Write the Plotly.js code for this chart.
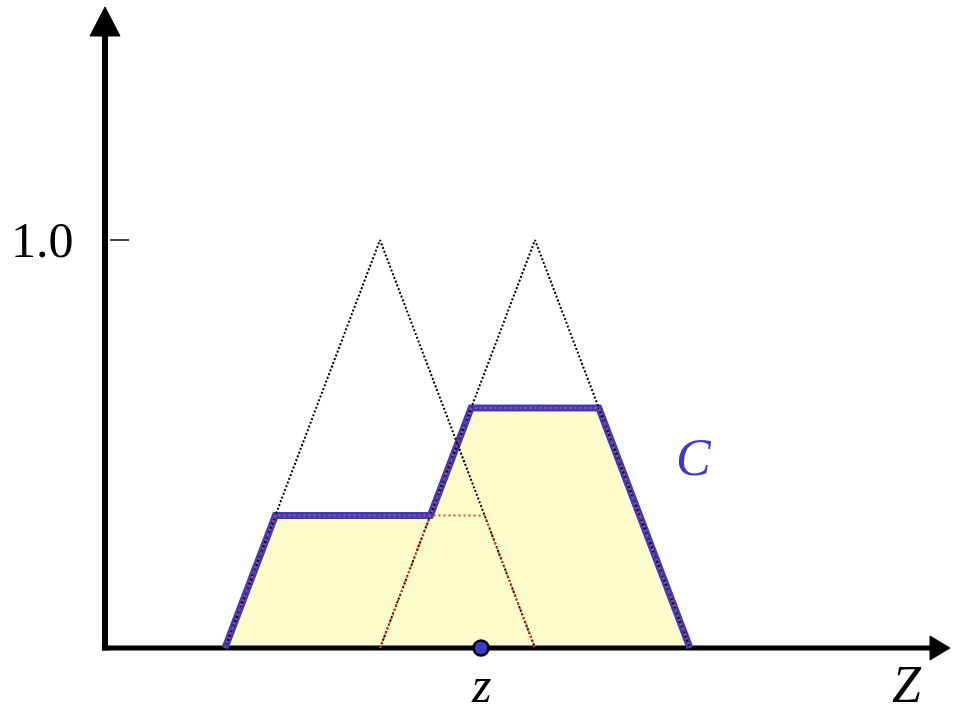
<!DOCTYPE html>
<html>
<head>
<meta charset="utf-8">
<script src="https://cdn.plot.ly/plotly-3.0.1.min.js"></script>
<style>
  html, body { margin: 0; padding: 0; background: #ffffff; }
  #chart { width: 953px; height: 715px; }
</style>
</head>
<body>
<div id="chart"></div>
<script>
// Two triangular fuzzy sets on the Z axis
const set1X = [1, 2, 3];
const set1Y = [0, 1, 0];
const set2X = [2, 3, 4];
const set2Y = [0, 1, 0];

// Each set clipped at its firing level
const clip1X = [1, 1.325, 2.675, 3];
const clip1Y = [0, 0.325, 0.325, 0];
const clip2X = [2, 2.588, 3.412, 4];
const clip2Y = [0, 0.588, 0.588, 0];

// Aggregated output set C (upper envelope of the clipped sets)
const outX = [1, 1.325, 2.325, 2.588, 3.412, 4];
const outY = [0, 0.325, 0.325, 0.588, 0.588, 0];

// Crisp output value z
const crispZ = [2.652];
const crispLevel = [0];

// Vertical axis tick
const yTickVals = [1];
const yTickText = ['1.0'];

// Axis geometry (data units)
const axisX0 = 0.2258, axisXEnd = 5.6774, axisXHead = 5.5484, headHalfY = 0.0294;
const axisYTop = 1.5711, axisYHead = 1.5, headHalfX = 0.0968;
const yBottom = -0.16422;

const SERIF = '"Liberation Serif", "Times New Roman", serif';
const BLUE = 'rgb(58,58,200)';
const RED = 'rgb(230,75,25)';

const traces = [
  // yellow area of C
  { x: outX, y: outY, mode: 'lines', fill: 'toself', fillcolor: 'rgb(253,252,202)',
    line: { width: 0, color: 'rgba(0,0,0,0)' }, hoverinfo: 'skip' },
  // horizontal axis
  { x: [axisX0 - 0.02, axisXHead + 0.01], y: [0, 0], mode: 'lines',
    line: { color: 'black', width: 5 }, hoverinfo: 'skip' },
  { x: [axisXHead, axisXEnd, axisXHead, axisXHead], y: [headHalfY, 0, -headHalfY, headHalfY],
    mode: 'lines', fill: 'toself', fillcolor: 'black', line: { color: 'black', width: 1 }, hoverinfo: 'skip' },
  // vertical axis
  { x: [axisX0, axisX0], y: [-0.006, axisYHead + 0.01], mode: 'lines',
    line: { color: 'black', width: 6 }, hoverinfo: 'skip' },
  { x: [axisX0 - headHalfX, axisX0, axisX0 + headHalfX, axisX0 - headHalfX],
    y: [axisYHead, axisYTop, axisYHead, axisYHead],
    mode: 'lines', fill: 'toself', fillcolor: 'black', line: { color: 'black', width: 1 }, hoverinfo: 'skip' },
  // outline of C
  { x: outX, y: outY, mode: 'lines', line: { color: BLUE, width: 7 }, hoverinfo: 'skip' },
  // full triangular sets
  { x: set1X, y: set1Y, mode: 'lines', line: { color: 'black', width: 2, dash: '2px,2px' }, hoverinfo: 'skip' },
  { x: set2X, y: set2Y, mode: 'lines', line: { color: 'black', width: 2, dash: '2px,2px' }, hoverinfo: 'skip' },
  // clipped sets
  { x: clip1X, y: clip1Y, mode: 'lines', line: { color: RED, width: 2, dash: '2px,3px' }, hoverinfo: 'skip' },
  { x: clip2X, y: clip2Y, mode: 'lines', line: { color: RED, width: 2, dash: '2px,3px' }, hoverinfo: 'skip' },
  // crisp value marker
  { x: crispZ, y: crispLevel, mode: 'markers', cliponaxis: false,
    marker: { size: 15, color: BLUE, line: { color: 'black', width: 2.5 } }, hoverinfo: 'skip' }
];

const tickShapes = yTickVals.map(v => ({
  type: 'line', xref: 'x', yref: 'y', x0: axisX0 + 0.032, x1: axisX0 + 0.155, y0: v, y1: v,
  line: { color: 'black', width: 1.5 }
}));

const tickLabels = yTickVals.map((v, i) => ({
  x: 0.0387, y: v, xref: 'x', yref: 'y', xanchor: 'right', yanchor: 'middle',
  text: yTickText[i], showarrow: false, font: { family: SERIF, size: 50, color: 'black' }
}));

const layout = {
  width: 953, height: 715,
  margin: { l: 0, r: 0, t: 0, b: 0 },
  paper_bgcolor: 'white', plot_bgcolor: 'white',
  showlegend: false,
  xaxis: { range: [-0.45161, 5.69677], visible: false, fixedrange: true },
  yaxis: { range: [yBottom, 1.58824], visible: false, fixedrange: true },
  shapes: tickShapes,
  annotations: tickLabels.concat([
    { x: crispZ[0], y: yBottom, xref: 'x', yref: 'y', xanchor: 'center', yanchor: 'bottom',
      borderpad: 0, yshift: 1,
      text: '<i>z</i>', showarrow: false, font: { family: SERIF, size: 50, color: 'black' } },
    { x: 5.4, y: yBottom, xref: 'x', yref: 'y', xanchor: 'center', yanchor: 'bottom',
      borderpad: 0, yshift: 1,
      text: '<i>Z</i>', showarrow: false, font: { family: SERIF, size: 52, color: 'black' } },
    { x: 4.026, y: 0.468, xref: 'x', yref: 'y', xanchor: 'center', yanchor: 'middle',
      text: '<i>C</i>', showarrow: false, font: { family: SERIF, size: 52, color: BLUE } }
  ])
};

Plotly.newPlot('chart', traces, layout, { displayModeBar: false, staticPlot: true });
</script>
</body>
</html>
